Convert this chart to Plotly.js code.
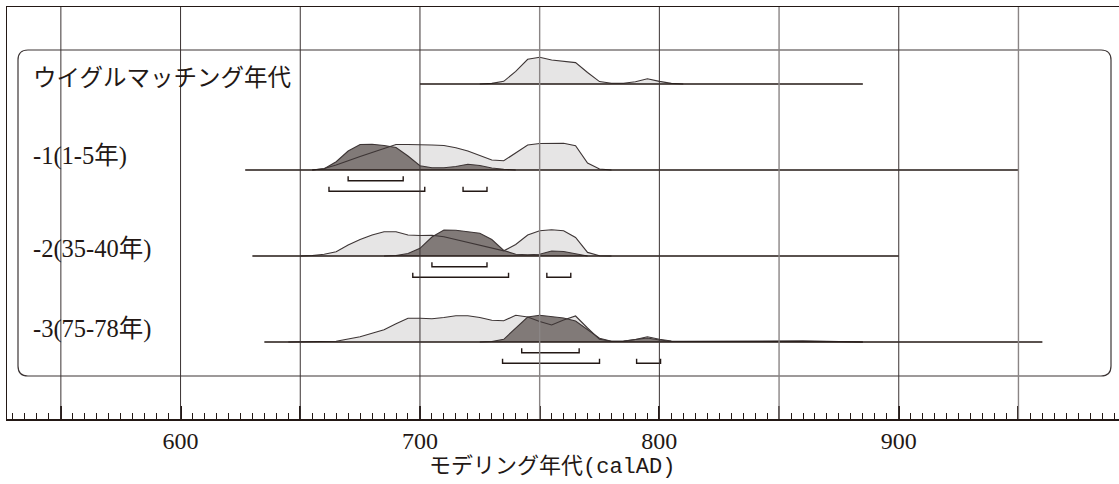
<!DOCTYPE html>
<html><head><meta charset="utf-8">
<script src="https://cdn.plot.ly/plotly-3.0.1.min.js"></script>
<style>html,body{margin:0;padding:0;background:#fff}</style>
</head><body><div id="chart" style="width:1119px;height:484px"></div>
<script>
// ---------------- data ----------------
const rowLabels = ["ウイグルマッチング年代", "-1(1-5年)", "-2(35-40年)", "-3(75-78年)"];
// span of each model line (calAD)
const rowRanges = [[700, 885], [627, 950], [630, 900], [635, 960]];

// relative probability (arbitrary units), light = unmodelled, dark = modelled
const wmX  = [725,730,735,740,745,750,755,760,765,770,775,780,785,790,795,800,805,810];
const wmP  = [0,0.6,2.7,12.6,24.7,26.7,24,22.6,21.4,11.5,2.4,0.7,0.7,2.3,5.3,2.6,0.6,0];

const r1LX = [655,660,665,670,675,680,685,690,695,700,705,710,715,720,725,730,735,740,745,750,755,760,765,770,775,780];
const r1LP = [0,1.5,5,9.5,13.5,17.5,21.5,25.5,25.5,25.5,25,24.5,22.3,19,14.5,10,9.2,17,25,26.5,26.7,26.7,24.3,7,1,0];
const r1DX = [655,660,665,670,675,680,685,690,695,700,705,710,715,720,725,730,735,740];
const r1DP = [0,1.2,8.3,19,25.5,25.8,24.5,22.5,14,4.3,2.3,2.3,3.5,5.8,4.5,2,0.8,0];

const r2LX = [650,655,660,665,670,675,680,685,690,695,700,705,710,715,720,725,730,735,740,745,750,755,760,765,770,775,780];
const r2LP = [0,0.5,1.8,4.2,11,16.5,21,24.3,24.3,21,20.5,20.7,19.3,16.5,13.7,10.9,8.1,5.2,11.5,21,25.3,26.3,25.3,18.5,3.6,0.3,0];
const r2DX = [685,690,695,700,705,710,715,720,725,730,735,740,745,750,755,760,765,770];
const r2DP = [0,0.5,2.5,7.7,19,26,25.7,24,22.7,16.5,5.5,1.8,1.2,1.8,5,4.5,2,0];

const r3LX = [645,650,655,660,665,670,675,680,685,690,695,700,705,710,715,720,725,730,735,740,745,750,755,760,765,770,775,780,785,790,795,800,805,810,820,830,840,850,860,870,880,885];
const r3LP = [0,0.1,0.3,0.5,0.7,3,5.3,8.7,12.3,18.3,23.7,23.7,23.3,24.5,26.3,26.3,24.5,21.8,21.3,26.7,25,20.5,17,22,26,14,2.7,0.7,0.7,2.5,5.3,2.7,1,0.7,0.8,1,1.3,1.5,1.2,0.8,0.3,0];
const r3DX = [725,730,735,740,745,750,755,760,765,770,775,780,785,790,795,800,805,810,830,850,870,885];
const r3DP = [0,0.5,2.7,14,25,26.7,25.5,24,21,12.6,3.7,0.7,1,2.5,4,2,0.8,0.5,0.6,0.8,0.4,0];

// highest posterior density ranges (calAD)
const r1Hpd68 = [[670,693]];
const r1Hpd95 = [[662,702],[718,728]];
const r2Hpd68 = [[705,728]];
const r2Hpd95 = [[697,737],[753,763]];
const r3Hpd68 = [[742.5,766.5]];
const r3Hpd95 = [[734.5,775],[790.5,800.5]];

const gridYears = [550,600,650,700,750,800,850,900,950];
const tickLabels = ["", "600", "", "700", "", "800", "", "900", ""];
const xTitle = "モデリング年代(calAD)";

// ---------------- layout / style ----------------
const INK = "#231815", OUT = "#3d3535", LIGHT = "#e6e5e5", DARK = "#817a78";
const X0 = 527.5, X1 = 992.0;
const PLOT_W = 1112, PLOT_H = 412;
const PXX = PLOT_W / (X1 - X0);
const rowBase = [335, 249, 163, 77];   // y units = pixels from plot bottom
const labelY = [341.5, 263, 170, 90];
const labelFont = "'Liberation Serif', 'Noto Sans CJK JP', serif";
const labelSize = [23.5, 24.5, 24.5, 24.5];

const rows = [
  {L:[wmX,wmP]},
  {L:[r1LX,r1LP], D:[r1DX,r1DP], h68:r1Hpd68, h95:r1Hpd95},
  {L:[r2LX,r2LP], D:[r2DX,r2DP], h68:r2Hpd68, h95:r2Hpd95},
  {L:[r3LX,r3LP], D:[r3DX,r3DP], h68:r3Hpd68, h95:r3Hpd95},
];

const traces = [];
function poly(xs, ps, base) {
  return {x:[xs[0], ...xs, xs[xs.length-1]], y:[base, ...ps.map(p=>base+p), base]};
}
rows.forEach((r, i) => {
  const b = rowBase[i];
  const lp = poly(r.L[0], r.L[1], b);
  traces.push({x:lp.x, y:lp.y, mode:"lines", fill:"toself", fillcolor:LIGHT, line:{width:0}, hoverinfo:"skip"});
  if (r.D) {
    const dp = poly(r.D[0], r.D[1], b);
    traces.push({x:dp.x, y:dp.y, mode:"lines", fill:"toself", fillcolor:DARK, line:{width:0}, hoverinfo:"skip"});
  }
  traces.push({x:r.L[0], y:r.L[1].map(p=>b+p), mode:"lines", line:{color:OUT, width:1.1}, hoverinfo:"skip"});
  if (r.D) traces.push({x:r.D[0], y:r.D[1].map(p=>b+p), mode:"lines", line:{color:OUT, width:1.1}, hoverinfo:"skip"});
  traces.push({x:rowRanges[i], y:[b,b], mode:"lines", line:{color:INK, width:1.5}, hoverinfo:"skip"});
  const brk = (ranges, off) => {
    const xs=[], ys=[];
    ranges.forEach(([a,c]) => { xs.push(a,a,c,c,null); ys.push(b-off+4.5,b-off,b-off,b-off+4.5,null); });
    traces.push({x:xs, y:ys, mode:"lines", line:{color:INK, width:1.4}, hoverinfo:"skip"});
  };
  if (r.h68) brk(r.h68, 10.8);
  if (r.h95) brk(r.h95, 21.2);
});

// shapes: gridlines and rounded box
const shapes = gridYears.map(v => ({
  type:"line", xref:"x", yref:"paper", x0:v, x1:v, y0:0, y1:1, layer:"above",
  line:{color: (v>=750 && v%100===50) ? "#8a8585" : "#3a3232", width: (v>=750 && v%100===50) ? 1.4 : 1}
}));
const xd = px => X0 + (px - 7) / PXX;
const yd = py => 419 - py;
const bx = {L:18, R:1111, T:50, B:376, r:10};
const P = (px,py) => xd(px) + "," + yd(py);
const path = `M ${P(bx.L+bx.r,bx.T)} L ${P(bx.R-bx.r,bx.T)} Q ${P(bx.R,bx.T)} ${P(bx.R,bx.T+bx.r)} L ${P(bx.R,bx.B-bx.r)} Q ${P(bx.R,bx.B)} ${P(bx.R-bx.r,bx.B)} L ${P(bx.L+bx.r,bx.B)} Q ${P(bx.L,bx.B)} ${P(bx.L,bx.B-bx.r)} L ${P(bx.L,bx.T+bx.r)} Q ${P(bx.L,bx.T)} ${P(bx.L+bx.r,bx.T)} Z`;
shapes.unshift({type:"path", xref:"x", yref:"y", path:path, layer:"below", line:{color:OUT, width:1.2}});

const annotations = rowLabels.map((t,i) => ({
  text:t, xref:"paper", yref:"y", x:(31-7)/PLOT_W, y:labelY[i], xanchor:"left", yanchor:"middle",
  showarrow:false, font:{family:labelFont, size:labelSize[i], color:INK}
}));
annotations.push({text:xTitle, xref:"paper", yref:"paper", x:(552-7)/PLOT_W, y:(419-467)/PLOT_H,
  xanchor:"center", yanchor:"middle", showarrow:false,
  font:{family:"'Liberation Mono', 'Noto Sans CJK JP', monospace", size:22, color:INK}});

const layout = {
  width:1119, height:484, margin:{l:7, r:0, t:7, b:65}, showlegend:false,
  paper_bgcolor:"#fff", plot_bgcolor:"#fff",
  xaxis:{range:[X0,X1], showline:true, mirror:true, linecolor:INK, linewidth:1.5,
    tickmode:"array", tickvals:gridYears, ticktext:tickLabels, ticks:"inside", ticklen:13, tickwidth:2, tickcolor:INK,
    tickfont:{family:"'Liberation Serif', serif", size:24, color:INK}, showgrid:false, zeroline:false,
    minor:{tickmode:"linear", tick0:0, dtick:5, ticks:"inside", ticklen:6, tickwidth:1, tickcolor:INK, showgrid:false},
    fixedrange:true},
  yaxis:{range:[0,PLOT_H], showline:true, linecolor:INK, linewidth:1.5, showticklabels:false, ticks:"",
    showgrid:false, zeroline:false, fixedrange:true},
  shapes:shapes, annotations:annotations
};
Plotly.newPlot("chart", traces, layout, {staticPlot:true, displayModeBar:false});
</script></body></html>
